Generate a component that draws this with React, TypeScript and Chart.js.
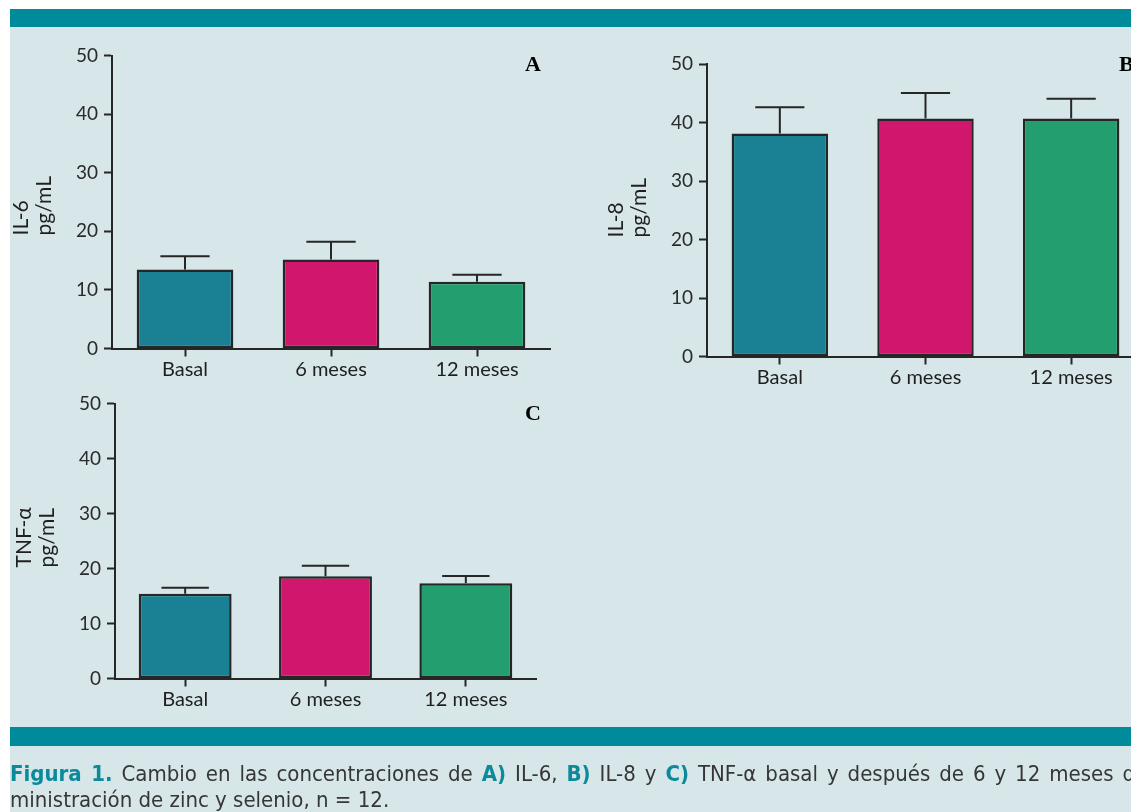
import React, { useEffect, useRef } from "react";
import { Chart, registerables } from "chart.js";

Chart.register(...registerables);

// ---------- data ----------
const categories = ["Basal", "6 meses", "12 meses"];
const yTickValues = [0, 10, 20, 30, 40, 50];

const il6Means = [13.5, 15.2, 11.4];
const il6Errors = [2.25, 3.0, 1.2];

const il8Means = [38.1, 40.7, 40.7];
const il8Errors = [4.5, 4.35, 3.35];

const tnfMeans = [15.4, 18.6, 17.3];
const tnfErrors = [1.1, 1.9, 1.35];

const il6Title = ["IL-6", "pg/mL"];
const il8Title = ["IL-8", "pg/mL"];
const tnfTitle = ["TNF-α", "pg/mL"];

// ---------- styles ----------
const barColors = ["#1a8194", "#d1166e", "#239e6e"];
const inkColor = "#262626";
const pageBg = "#d6e6e9";
const teal = "#008b9a";
const chartFont = "Lato, 'Open Sans', sans-serif";

const CANVAS_W = 1160;
const CANVAS_H = 812;
const Y_AXIS_W = 50;
const X_AXIS_H = 40;

type Area = { left: number; right: number; top: number; bottom: number };

const errorBarPlugin = {
  id: "errorBars",
  afterDatasetsDraw(chart: any, _args: any, opts: any) {
    const errs: number[] = opts.errors || [];
    const meta = chart.getDatasetMeta(0);
    const ys = chart.scales.y;
    const ctx = chart.ctx;
    ctx.save();
    ctx.strokeStyle = inkColor;
    ctx.lineWidth = opts.lineWidth || 2;
    meta.data.forEach((el: any, i: number) => {
      const v = chart.data.datasets[0].data[i];
      const yTop = ys.getPixelForValue(v);
      const yErr = ys.getPixelForValue(v + errs[i]);
      const half = (el.width * 0.51) / 2;
      ctx.beginPath();
      ctx.moveTo(el.x, yTop);
      ctx.lineTo(el.x, yErr);
      ctx.moveTo(el.x - half, yErr);
      ctx.lineTo(el.x + half, yErr);
      ctx.stroke();
    });
    ctx.restore();
  },
};

const decorPlugin = {
  id: "decor",
  afterDraw(chart: any, _args: any, opts: any) {
    const ctx = chart.ctx;
    const area = chart.chartArea;
    ctx.save();
    const lines: string[] = opts.titleLines || [];
    const offsets = [84, 61.5];
    ctx.fillStyle = "#1f1f1f";
    ctx.font = `21px ${chartFont}`;
    ctx.textAlign = "left";
    ctx.textBaseline = "alphabetic";
    lines.forEach((t, i) => {
      ctx.save();
      ctx.translate(area.left - offsets[i], area.bottom - opts.titleRise);
      ctx.rotate(-Math.PI / 2);
      ctx.fillText(t, 0, 0);
      ctx.restore();
    });
    ctx.fillStyle = "#000";
    ctx.font = "bold 22px 'Liberation Serif', 'DejaVu Serif', serif";
    ctx.textAlign = "left";
    ctx.fillText(opts.letter, opts.letterX, opts.letterY);
    ctx.restore();
  },
};

function makeConfig(
  means: number[],
  errors: number[],
  titleLines: string[],
  area: Area,
  letter: string,
  letterX: number,
  letterY: number,
  titleRise: number
): any {
  return {
    type: "bar",
    data: {
      labels: categories,
      datasets: [
        {
          data: means,
          backgroundColor: barColors,
          borderColor: inkColor,
          borderWidth: 2.5,
          borderSkipped: false,
          barPercentage: 0.662,
          categoryPercentage: 1,
        },
      ],
    },
    options: {
      responsive: false,
      animation: false,
      devicePixelRatio: 1,
      events: [],
      layout: {
        padding: {
          left: area.left - Y_AXIS_W,
          top: area.top,
          right: CANVAS_W - area.right,
          bottom: CANVAS_H - area.bottom - X_AXIS_H,
        },
      },
      plugins: {
        legend: { display: false },
        tooltip: { enabled: false },
        errorBars: { errors, lineWidth: 2 },
        decor: { titleLines, letter, letterX, letterY, titleRise },
      },
      scales: {
        x: {
          type: "category",
          offset: true,
          grid: {
            offset: false,
            drawOnChartArea: false,
            drawTicks: true,
            tickLength: 8,
            tickWidth: 2,
            tickColor: inkColor,
          },
          border: { display: true, color: inkColor, width: 2 },
          ticks: {
            color: "#1f1f1f",
            font: { family: chartFont, size: 20 },
            padding: 1,
            maxRotation: 0,
            autoSkip: false,
          },
          afterFit: (s: any) => {
            s.height = X_AXIS_H;
          },
        },
        y: {
          min: 0,
          max: 50,
          afterBuildTicks: (s: any) => {
            s.ticks = yTickValues.map((v) => ({ value: v }));
          },
          grid: {
            drawOnChartArea: false,
            drawTicks: true,
            tickLength: 8,
            tickWidth: 2,
            tickColor: inkColor,
          },
          border: { display: true, color: inkColor, width: 2 },
          ticks: {
            color: "#2a2a2a",
            font: { family: chartFont, size: 19 },
            padding: 6,
          },
          afterFit: (s: any) => {
            s.width = Y_AXIS_W;
          },
        },
      },
    },
    plugins: [errorBarPlugin, decorPlugin],
  };
}

function ChartLayer({ config }: { config: any }) {
  const ref = useRef<HTMLCanvasElement | null>(null);
  useEffect(() => {
    if (!ref.current) return;
    const chart = new Chart(ref.current, config);
    return () => chart.destroy();
  }, [config]);
  return (
    <canvas
      ref={ref}
      width={CANVAS_W}
      height={CANVAS_H}
      style={{
        position: "absolute",
        left: 0,
        top: 0,
        width: CANVAS_W,
        height: CANVAS_H,
      }}
    />
  );
}

const configA = makeConfig(
  il6Means,
  il6Errors,
  il6Title,
  { left: 112, right: 550, top: 55.5, bottom: 348.5 },
  "A",
  525,
  70.5,
  113
);
const configB = makeConfig(
  il8Means,
  il8Errors,
  il8Title,
  { left: 707, right: 1144, top: 64, bottom: 356.5 },
  "B",
  1119,
  70.5,
  119
);
const configC = makeConfig(
  tnfMeans,
  tnfErrors,
  tnfTitle,
  { left: 115, right: 536, top: 403.5, bottom: 678.5 },
  "C",
  525,
  419.5,
  111
);

export default function App() {
  const tealBold: React.CSSProperties = { color: "#0a8a9a", fontWeight: 700 };
  return (
    <div
      style={{
        position: "fixed",
        left: 0,
        top: 0,
        width: 1131,
        height: 812,
        overflow: "hidden",
        background: "#ffffff",
      }}
    >
      <div style={{ position: "absolute", left: 10, top: 27, right: 0, bottom: 0, background: pageBg }} />
      <div style={{ position: "absolute", left: 10, top: 9, right: 0, height: 18, background: teal }} />
      <div style={{ position: "absolute", left: 10, top: 727, right: 0, height: 19, background: teal }} />
      <ChartLayer config={configA} />
      <ChartLayer config={configB} />
      <ChartLayer config={configC} />
      <div
        style={{
          position: "absolute",
          left: 10,
          top: 761,
          width: 1178,
          fontFamily: "'DejaVu Sans Condensed', 'DejaVu Sans', sans-serif",
          fontStretch: "condensed",
          fontSize: 22,
          lineHeight: "26px",
          color: "#363636",
        }}
      >
        <div style={{ whiteSpace: "nowrap", textAlign: "justify", textAlignLast: "justify", width: 1178 }}>
          <span style={tealBold}>Figura 1.</span> Cambio en las concentraciones de{" "}
          <span style={tealBold}>A)</span> IL-6, <span style={tealBold}>B)</span> IL-8 y{" "}
          <span style={tealBold}>C)</span> TNF-α basal y después de 6 y 12 meses de ad-
        </div>
        <div style={{ whiteSpace: "nowrap" }}>ministración de zinc y selenio, n = 12.</div>
      </div>
    </div>
  );
}
